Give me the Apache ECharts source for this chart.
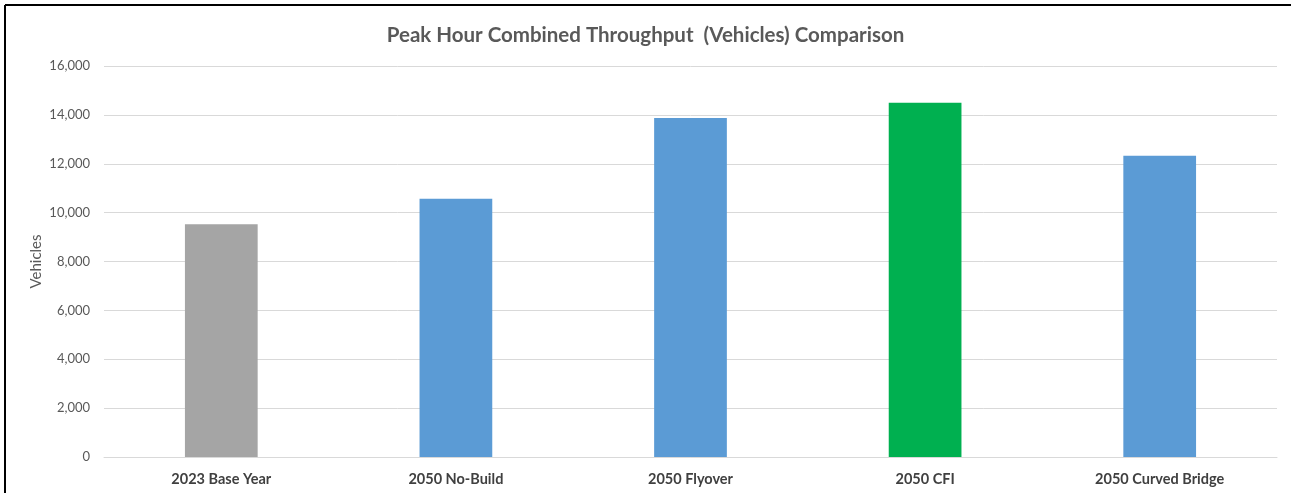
<!DOCTYPE html>
<html>
<head>
<meta charset="utf-8">
<style>
  html, body { margin: 0; padding: 0; background: #ffffff; }
  #chart { width: 1291px; height: 493px; }
</style>
<script src="https://cdn.jsdelivr.net/npm/echarts@6/dist/echarts.min.js"></script>
</head>
<body>
<div id="chart"></div>
<script>
const categories = ['2023 Base Year', '2050 No-Build', '2050 Flyover', '2050 CFI', '2050 Curved Bridge'];
const throughput = [9520, 10570, 13870, 14500, 12330];
const barColors = ['#a5a5a5', '#5b9bd5', '#5b9bd5', '#00b050', '#5b9bd5'];

const FONT = 'Lato, "Open Sans", sans-serif';

const chart = echarts.init(document.getElementById('chart'), null, { renderer: 'canvas' });

chart.setOption({
  animation: false,
  backgroundColor: '#ffffff',
  title: {
    text: 'Peak Hour Combined Throughput  (Vehicles) Comparison',
    left: 'center',
    top: 20,
    textStyle: { fontFamily: FONT, fontSize: 20.5, fontWeight: 'bold', color: '#595959' }
  },
  grid: { left: 104, right: 14, top: 66, bottom: 36 },
  xAxis: {
    type: 'category',
    data: categories,
    axisLine: { lineStyle: { color: '#d9d9d9', width: 1 } },
    axisTick: { show: false },
    axisLabel: { fontFamily: FONT, fontSize: 14.5, fontWeight: 'bold', color: '#404040', margin: 15 }
  },
  yAxis: {
    type: 'value',
    min: 0,
    max: 16000,
    interval: 2000,
    name: 'Vehicles',
    nameLocation: 'middle',
    nameGap: 60,
    nameMoveOverlap: false,
    nameRotate: 90,
    nameTextStyle: { fontFamily: FONT, fontSize: 15, color: '#595959' },
    axisLine: { show: false },
    axisTick: { show: false },
    splitLine: { lineStyle: { color: '#d9d9d9', width: 1 } },
    axisLabel: {
      fontFamily: FONT, fontSize: 13, color: '#595959', margin: 14,
      formatter: v => v.toLocaleString('en-US')
    }
  },
  series: [{
    type: 'bar',
    data: throughput.map((v, i) => ({ value: v, itemStyle: { color: barColors[i] } })),
    barWidth: '31%'
  }],
  graphic: [
    { type: 'line', shape: { x1: 5, y1: 5, x2: 1291, y2: 5 }, style: { stroke: '#000000', lineWidth: 2 } },
    { type: 'line', shape: { x1: 5, y1: 5, x2: 5, y2: 493 }, style: { stroke: '#000000', lineWidth: 2 } }
  ]
});
</script>
</body>
</html>
